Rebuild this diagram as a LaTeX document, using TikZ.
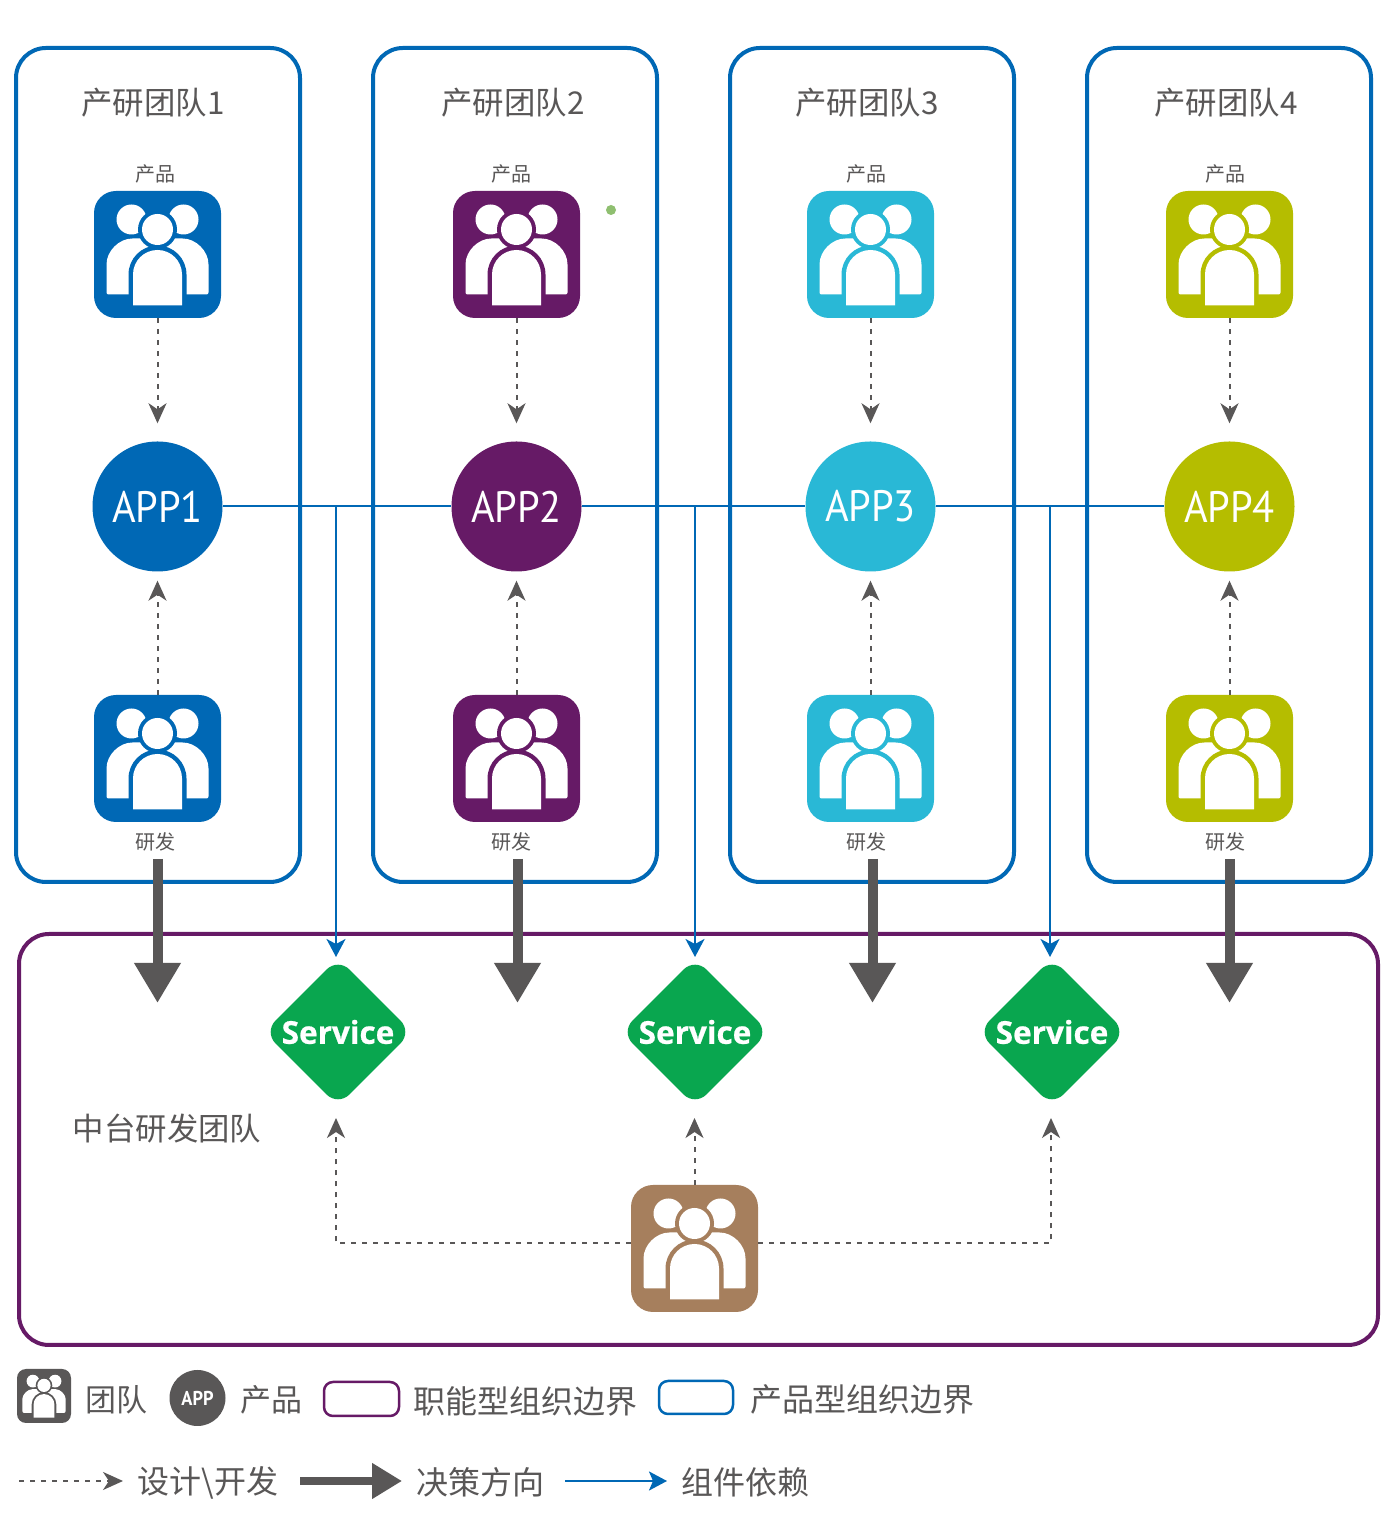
\documentclass[tikz,border=0pt]{standalone}
\usepackage{fontspec}
\usepackage{graphicx}
\usetikzlibrary{arrows.meta,shapes.geometric,calc}
\setmainfont{Noto Sans CJK SC}
\newfontfamily\appfont[FakeStretch=0.92]{PT Sans}
\newfontfamily\svcfont[BoldFeatures={FakeBold=0.7}]{Open Sans}
\definecolor{cblue}{HTML}{0068B5}
\definecolor{cpurple}{HTML}{661A66}
\definecolor{ccyan}{HTML}{29B8D6}
\definecolor{colive}{HTML}{B5BD00}
\definecolor{cgreen}{HTML}{09A64F}
\definecolor{cbrown}{HTML}{A67F5D}
\definecolor{cdark}{HTML}{595757}
\definecolor{cdot}{HTML}{8FBF70}
\newcommand\teamglyph[4]{%
  \begin{scope}[shift={(#1,#2)},scale=#4]
    \fill[white] (-26,35) circle[radius=15];
    \fill[white] (26,35) circle[radius=15];
    \fill[white,rounded corners=2] (-51,-40) -- (-51,-12) arc[start angle=180,end angle=90,radius=28] -- (23,16) arc[start angle=90,end angle=0,radius=28] -- (51,-40) -- cycle;
    \fill[#3] (-29,-41) -- (-29,-20) arc[start angle=180,end angle=0,radius=29] -- (29,-41) -- cycle;
    \fill[white] (-24.5,-51) -- (-24.5,-20) arc[start angle=180,end angle=0,radius=24.5] -- (24.5,-51) -- cycle;
    \fill[#3] (0,25) circle[radius=19.5];
    \fill[white] (0,25) circle[radius=15.5];
  \end{scope}}
\tikzset{
  x=1pt,y=1pt,
  teambox/.style={draw=cblue,line width=4pt,rounded corners=30pt,minimum width=284pt,minimum height=834pt,inner sep=0pt},
  icon/.style={fill=#1,rounded corners=22pt,minimum size=127pt,inner sep=0pt},
  appnode/.style={circle,fill=#1,minimum size=130pt,inner sep=0pt,text=white,font=\appfont\fontsize{44}{44}\selectfont},
  svc/.style={diamond,aspect=1,fill=cgreen,rounded corners=16pt,minimum width=148pt,minimum height=148pt,inner sep=0pt,text=white,font=\svcfont\bfseries\fontsize{31.5}{31.5}\selectfont},
  txt/.style={inner sep=0pt,text=cdark,font=\fontsize{#1}{#1}\selectfont},
  dep/.style={draw=cblue,line width=2pt},
  depa/.style={dep,-{Stealth[width=19pt,length=18pt,inset=5pt]}},
  des/.style={draw=cdark,line width=2pt,dash pattern=on 5pt off 6pt,-{Stealth[width=18pt,length=20pt,inset=6pt,color=cdark]}},
  dec/.style={draw=cdark,line width=10pt,-{Triangle[width=44pt,length=40pt]}},
}
\begin{document}
\begin{tikzpicture}
\useasboundingbox[fill=white] (0,0) rectangle (1395,1528);
% team boxes
\foreach \i/\bx in {1/158,2/515,3/872,4/1229}{
  \node[teambox] (box\i) at (\bx,1063) {};
}
\node[draw=cpurple,line width=4pt,rounded corners=30pt,minimum width=1359pt,minimum height=411pt,inner sep=0pt] (mid) at (698.5,388.5) {};
% titles, icons, apps
\foreach \i/\x/\c/\tx/\lx in {1/157.5/cblue/153/155,2/516.5/cpurple/513/511,3/870.5/ccyan/867/866,4/1229.5/colive/1226/1225}{
  \node[txt=31.4] (title\i) at (\tx,1425) {产研团队\i};
  \node[txt=20] (pl\i) at (\lx,1354) {产品};
  \node[txt=20] (dl\i) at (\lx,686) {研发};
  \node[icon=\c] (p\i) at (\x,1273.5) {};
  \teamglyph{\x}{1273.5}{\c}{1}
  \node[icon=\c] (d\i) at (\x,769.5) {};
  \teamglyph{\x}{769.5}{\c}{1}
  \node[appnode=\c] (app\i) at (\x,1021.5) {APP\i};
  \draw[des,shorten >=18pt] (p\i.south) -- (app\i.north);
  \draw[des,shorten >=9pt] (d\i.north) -- (app\i.south);
}
\node[circle,fill=cdot,minimum size=10pt,inner sep=0pt] (dot) at (611,1318) {};
% services
\node[svc] (s1) at (338,496) {Service};
\node[svc] (s2) at (695,496) {Service};
\node[svc] (s3) at (1052,496) {Service};
% component dependency
\draw[dep] (app1) -- (app2);
\draw[dep] (app2) -- (app3);
\draw[dep] (app3) -- (app4);
\coordinate (j1) at (336,1021.5); \coordinate (e1) at (336,571);
\coordinate (j2) at (695,1021.5); \coordinate (e2) at (695,571);
\coordinate (j3) at (1050,1021.5); \coordinate (e3) at (1050,571);
\draw[depa] (j1) -- (e1);
\draw[depa] (j2) -- (e2);
\draw[depa] (j3) -- (e3);
% decision arrows
\foreach \i/\x in {1/157.5,2/517.5,3/872.5,4/1229.5}{
  \coordinate (ds\i) at (\x,669);
  \coordinate (de\i) at (\x,525);
  \draw[dec] (ds\i) -- (de\i);
}
% platform team
\node[txt=31.4] (midt) at (167,399) {中台研发团队};
\node[icon=cbrown] (b) at (694.5,279.5) {};
\teamglyph{694.5}{279.5}{cbrown}{1}
\coordinate (u1) at (336,410);
\coordinate (u2) at (694.5,410);
\coordinate (u3) at (1051,410);
\draw[des] (b.north) -- (u2);
\draw[des] ([yshift=5pt]b.west) -| (u1);
\draw[des] ([yshift=5pt]b.east) -| (u3);
% legend
\node[icon=cdark,minimum size=54pt,rounded corners=9pt] (l1) at (44,132) {};
\teamglyph{44}{132}{cdark}{0.425}
\node[txt=31,anchor=west] (lt1) at (85.5,128) {团队};
\node[circle,fill=cdark,minimum size=56pt,inner sep=0pt,text=white,font=\appfont\bfseries\fontsize{20}{20}\selectfont] (l2) at (197.5,130) {APP};
\node[txt=31,anchor=west] (lt2) at (240,128) {产品};
\node[draw=cpurple,line width=2.5pt,rounded corners=9pt,minimum width=75pt,minimum height=34pt,inner sep=0pt] (l3) at (361.5,129) {};
\node[txt=32,anchor=west] (lt3) at (413.5,127) {职能型组织边界};
\node[draw=cblue,line width=2.5pt,rounded corners=9pt,minimum width=74pt,minimum height=33pt,inner sep=0pt] (l4) at (696,130.5) {};
\node[txt=32,anchor=west] (lt4) at (750,129) {产品型组织边界};
\coordinate (a1) at (19,47); \coordinate (a2) at (123,47);
\draw[des] (a1) -- (a2);
\node[txt=32,anchor=west] (lt5) at (137.5,45) {设计\textbackslash 开发};
\coordinate (b1) at (300,47); \coordinate (b2) at (402,47);
\draw[draw=cdark,line width=8pt,-{Triangle[width=34pt,length=30pt]}] (b1) -- (b2);
\node[txt=32,anchor=west] (lt6) at (416.5,46) {决策方向};
\coordinate (c1) at (565,47); \coordinate (c2) at (667,47);
\draw[dep,-{Stealth[width=19pt,length=18pt,inset=4pt]}] (c1) -- (c2);
\node[txt=32,anchor=west] (lt7) at (681.5,46) {组件依赖};
\end{tikzpicture}
\end{document}
